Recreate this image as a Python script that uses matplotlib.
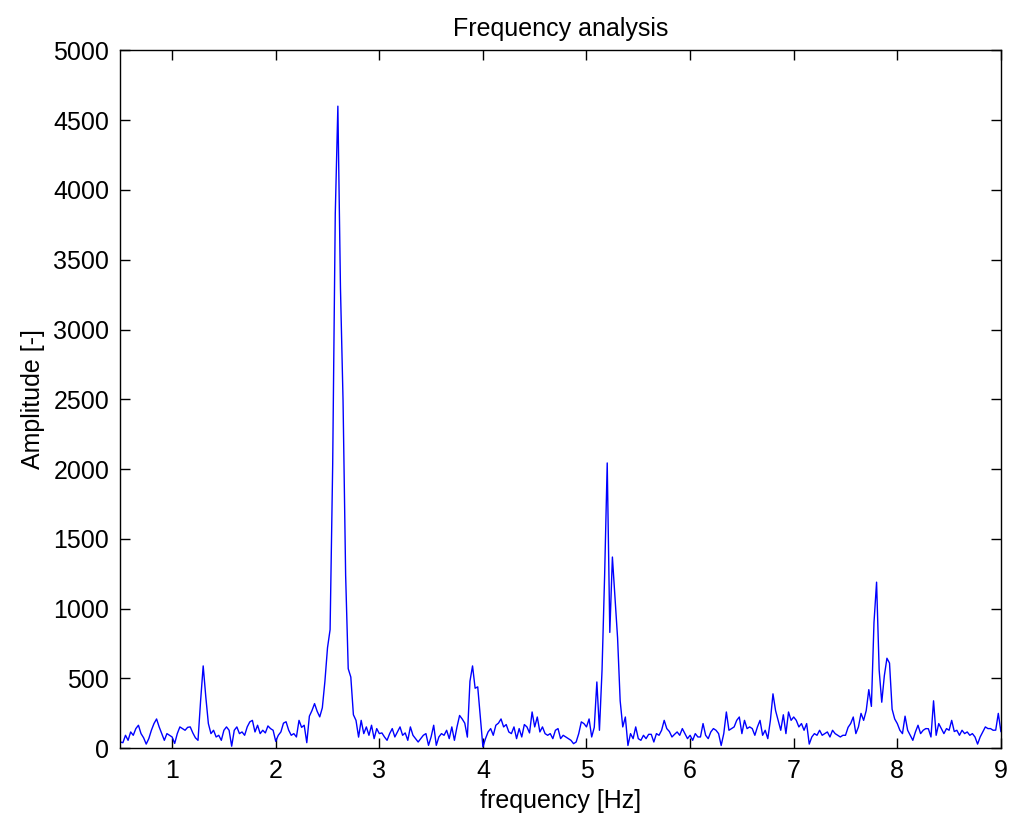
import numpy as np
import matplotlib
matplotlib.use("Agg")
import matplotlib.pyplot as plt

plt.rcParams['font.family'] = ['Liberation Sans', 'DejaVu Sans']

# frequency grid of the spectrum (Hz)
f_start = 0.5
f_step = 0.025

# amplitude, one row per 0.5 Hz
amp_05 = [45, 40, 93, 57, 117, 93, 141, 165, 105, 75, 30, 69, 129, 177, 210, 153, 105, 57, 105, 93]
amp_10 = [81, 35, 105, 153, 141, 129, 150, 153, 110, 75, 57, 340, 590, 370, 177, 105, 129, 81, 93, 57]
amp_15 = [129, 153, 129, 15, 129, 153, 105, 117, 93, 153, 189, 200, 117, 165, 105, 129, 110, 160, 141, 129]
amp_20 = [50, 93, 117, 180, 190, 130, 93, 105, 81, 200, 150, 165, 40, 230, 270, 320, 265, 225, 290, 480]
amp_25 = [720, 850, 2030, 3830, 4600, 3300, 2490, 1240, 570, 510, 240, 200, 80, 200, 105, 153, 93, 165, 69, 141]
amp_30 = [105, 110, 81, 57, 105, 141, 81, 117, 153, 93, 110, 57, 153, 93, 69, 45, 69, 93, 105, 21]
amp_35 = [81, 165, 21, 81, 105, 93, 129, 69, 153, 57, 153, 235, 210, 180, 80, 480, 590, 430, 440, 224]
amp_40 = [10, 69, 117, 141, 93, 165, 180, 210, 153, 170, 117, 105, 153, 69, 141, 81, 170, 153, 110, 260]
amp_45 = [153, 224, 117, 153, 105, 93, 105, 69, 129, 141, 69, 93, 81, 69, 57, 33, 45, 105, 189, 177]
amp_50 = [153, 210, 81, 150, 475, 129, 560, 1240, 2044, 830, 1370, 1080, 790, 340, 153, 224, 20, 105, 69, 153]
amp_55 = [69, 57, 93, 69, 100, 100, 45, 105, 93, 129, 200, 141, 120, 81, 100, 117, 93, 141, 105, 69]
amp_60 = [93, 57, 105, 81, 81, 177, 93, 69, 117, 141, 129, 105, 20, 105, 260, 129, 141, 153, 200, 224]
amp_65 = [105, 200, 141, 153, 141, 93, 153, 200, 93, 129, 69, 200, 390, 270, 200, 129, 240, 105, 260, 200]
amp_70 = [224, 200, 153, 177, 129, 177, 30, 81, 105, 93, 129, 93, 105, 117, 81, 129, 105, 93, 81, 93]
amp_75 = [93, 150, 177, 224, 105, 153, 250, 200, 270, 420, 300, 900, 1190, 560, 330, 520, 645, 610, 280, 210]
amp_80 = [177, 129, 105, 230, 129, 93, 57, 117, 165, 105, 129, 141, 140, 81, 340, 93, 177, 141, 105, 141]
amp_85 = [129, 200, 120, 129, 93, 129, 105, 117, 93, 105, 81, 30, 81, 117, 153, 141, 141, 129, 130, 250]
amp_90 = [120]

amplitude = np.array(amp_05 + amp_10 + amp_15 + amp_20 + amp_25 + amp_30 + amp_35 + amp_40
                     + amp_45 + amp_50 + amp_55 + amp_60 + amp_65 + amp_70 + amp_75 + amp_80
                     + amp_85 + amp_90, dtype=float)
freq = f_start + f_step * np.arange(len(amplitude))

x_ticks = [1, 2, 3, 4, 5, 6, 7, 8, 9]
y_ticks = [0, 500, 1000, 1500, 2000, 2500, 3000, 3500, 4000, 4500, 5000]

fig = plt.figure(figsize=(10.11, 8.25), dpi=100)
ax = fig.add_axes([0.119, 0.093, 0.871, 0.846])

ax.plot(freq, amplitude, color=(0, 0, 1), linewidth=1.0)

ax.set_xlim(0.5, 9)
ax.set_ylim(0, 5000)
ax.set_xticks(x_ticks)
ax.set_yticks(y_ticks)
ax.tick_params(direction='in', length=7, width=1, top=True, right=True,
               labelsize=18, pad=8, colors='black')
for s in ax.spines.values():
    s.set_linewidth(1)

ax.set_title('Frequency analysis', fontsize=18, pad=10)
ax.set_xlabel('frequency [Hz]', fontsize=18, labelpad=4)
ax.set_ylabel('Amplitude [-]', fontsize=18, labelpad=6)

fig.savefig('out.png', dpi=100, facecolor='white')
